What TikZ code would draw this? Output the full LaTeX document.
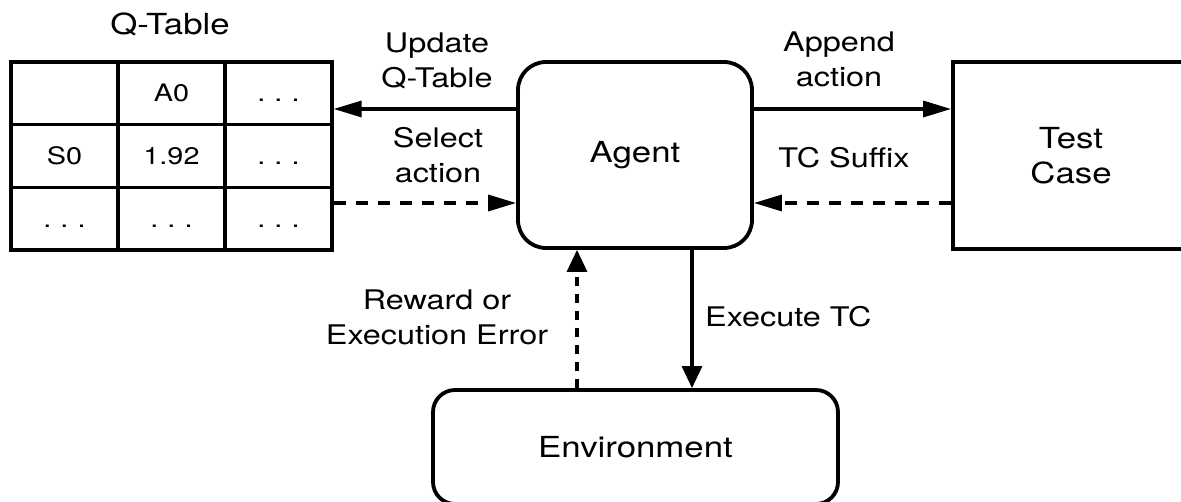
\documentclass[tikz,border=0pt]{standalone}
\usepackage{fontspec}
\setmainfont{TeX Gyre Heros}[FakeStretch=1.2]
\usetikzlibrary{arrows.meta}
% three spaced dots used in the table cells
\newcommand{\celldots}{.\hspace{9pt}.\hspace{9pt}.}
\begin{document}
\begin{tikzpicture}[x=1pt,y=-1pt,
  mainfont/.style={font=\fontsize{29}{35}\selectfont},
  lblfont/.style={font=\fontsize{27}{35}\selectfont},
  cell/.style={draw, line width=3.3pt, minimum width=107pt, minimum height=62.67pt,
    inner sep=0pt, text height=17pt, text depth=0pt, font=\fontsize{24}{28}\selectfont},
  block/.style={draw, line width=3.8pt, inner sep=0pt, align=center, mainfont},
  lbl/.style={align=center, anchor=base, inner sep=0pt, lblfont},
  link/.style={line width=3.3pt},
  htip/.style={-{Triangle[length=28pt,width=16pt]}},
  vtip/.style={-{Triangle[length=22pt,width=20pt]}},
  hdash/.style={dash pattern=on 12pt off 10pt},
  vdash/.style={dash pattern=on 9pt off 8pt},
]
\useasboundingbox (0,0) rectangle (1181,502);
\clip (0,0) rectangle (1181,502);

% Q-table
\node[lbl, mainfont] (qtitle) at (170,35) {Q-Table};
\node[cell] (c11) at (64.5,93.33) {};
\node[cell] (c12) at (171.5,93.33) {A0};
\node[cell] (c13) at (278.5,93.33) {\celldots};
\node[cell] (c21) at (64.5,156) {S0};
\node[cell] (c22) at (171.5,156) {1.92};
\node[cell] (c23) at (278.5,156) {\celldots};
\node[cell] (c31) at (64.5,218.67) {\celldots};
\node[cell] (c32) at (171.5,218.67) {\celldots};
\node[cell] (c33) at (278.5,218.67) {\celldots};

% main blocks
\node[block, rounded corners=28pt, minimum width=234pt, minimum height=186pt] (agent) at (635,155) {Agent};
\node[block, minimum width=236pt, minimum height=187pt] (tc) at (1071,155.5) {Test\\Case};
\node[block, rounded corners=22pt, minimum width=405pt, minimum height=114pt] (env) at (635.5,447) {Environment};

% labels (base anchor sits on the last line)
\node[lbl] (lupd) at (437,88) {Update\\Q-Table};
\node[lbl] (lsel) at (438,183) {Select\\action};
\node[lbl] (lapp) at (839,87) {Append\\action};
\node[lbl] (lsuf) at (844,168) {TC Suffix};
\node[lbl] (lrew) at (437,345) {Reward or\\Execution Error};
\node[lbl, anchor=base west] (lexe) at (705,327) {Execute TC};

% connector end points on the agent
\coordinate (updA) at ([yshift=46pt]agent.west);
\coordinate (selA) at ([yshift=-48pt]agent.west);
\coordinate (appA) at ([yshift=46pt]agent.east);
\coordinate (sufA) at ([yshift=-48pt]agent.east);
\coordinate (rwdA) at ([xshift=-58pt]agent.south);
\coordinate (exeA) at ([xshift=57pt]agent.south);

% connectors
\draw[link, htip] (updA) -- (updA -| c13.east);
\draw[link, hdash, htip] (selA -| c33.east) -- (selA);
\draw[link, htip] (appA) -- (appA -| tc.west);
\draw[link, hdash, htip] (sufA -| tc.west) -- (sufA);
\draw[link, vdash, vtip] (rwdA |- env.north) -- (rwdA);
\draw[link, vtip] (exeA) -- (exeA |- env.north);
\end{tikzpicture}
\end{document}
